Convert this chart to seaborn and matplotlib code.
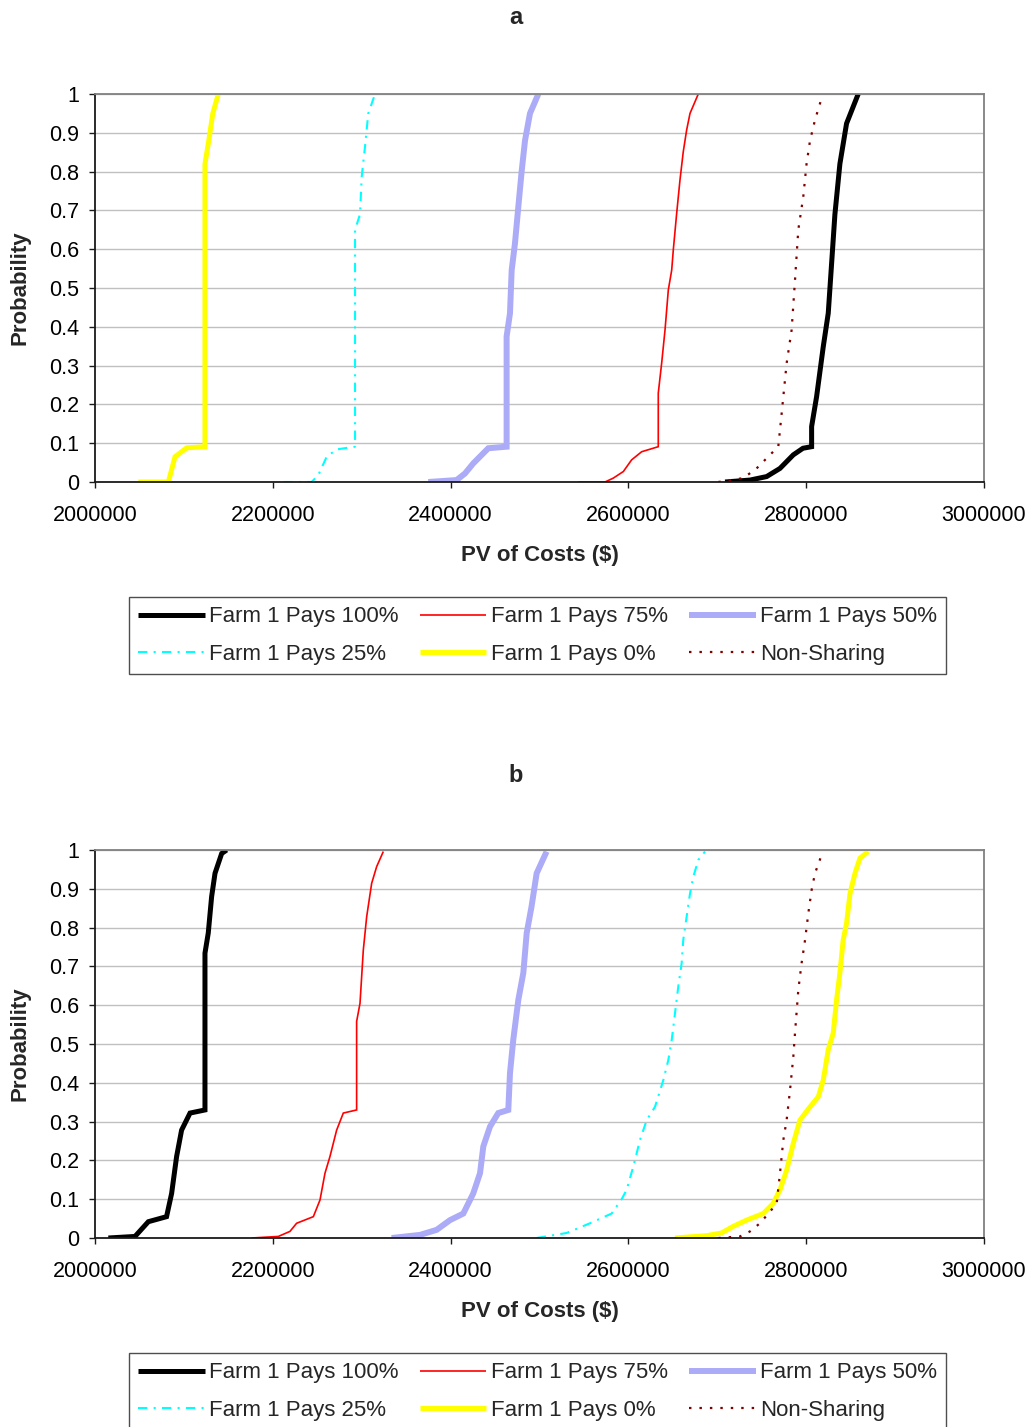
import matplotlib
matplotlib.use("Agg")
import matplotlib.pyplot as plt
import seaborn as sns
from matplotlib.ticker import FixedLocator, FuncFormatter

# ---------------- data: cumulative probability of PV of costs ----------------
series_labels = ["Farm 1 Pays 100%", "Farm 1 Pays 75%", "Farm 1 Pays 50%",
                 "Farm 1 Pays 25%", "Farm 1 Pays 0%", "Non-Sharing"]
x_ticks = [2000000, 2200000, 2400000, 2600000, 2800000, 3000000]
y_ticks = [0, 0.1, 0.2, 0.3, 0.4, 0.5, 0.6, 0.7, 0.8, 0.9, 1.0]

# panel a
a_p100_cost = [2708700, 2736800, 2755500, 2770500, 2785500, 2796400, 2806100, 2806100,
               2811700, 2819200, 2824800, 2828600, 2832300, 2837900, 2845400, 2858500]
a_p100_prob = [0.0, 0.005, 0.014, 0.035, 0.07, 0.087, 0.091, 0.143,
               0.22, 0.349, 0.435, 0.564, 0.69, 0.82, 0.924, 1.0]
a_p75_cost = [2543700, 2573700, 2583000, 2594300, 2603600, 2614900, 2633600, 2633600,
              2637400, 2641200, 2644900, 2648700, 2650500, 2654200, 2658000, 2661700,
              2665500, 2669300, 2678600]
a_p75_prob = [0.0, 0.0, 0.01, 0.027, 0.057, 0.078, 0.091, 0.229,
              0.306, 0.392, 0.495, 0.546, 0.598, 0.69, 0.778, 0.851,
              0.907, 0.95, 1.0]
a_p50_cost = [2374900, 2406800, 2416200, 2425500, 2442400, 2463000, 2463000, 2466800,
              2468700, 2472400, 2476200, 2479900, 2483700, 2489300, 2498700]
a_p50_prob = [0.0, 0.005, 0.022, 0.048, 0.087, 0.091, 0.375, 0.435,
              0.546, 0.615, 0.71, 0.80, 0.88, 0.95, 1.0]
a_p25_cost = [2211800, 2243700, 2251200, 2260600, 2271800, 2292500, 2292500, 2298100,
              2300000, 2303700, 2307400, 2315000]
a_p25_prob = [0.0, 0.0, 0.018, 0.065, 0.084, 0.091, 0.65, 0.69,
              0.787, 0.864, 0.95, 1.0]
a_p0_cost = [2048700, 2082500, 2090000, 2103100, 2123700, 2123700, 2128000, 2132500, 2138700]
a_p0_prob = [0.0, 0.0, 0.065, 0.088, 0.091, 0.82, 0.88, 0.95, 1.0]
a_ns_cost = [2701100, 2729200, 2744200, 2759300, 2768600, 2772400, 2778000, 2783600,
             2787400, 2791100, 2796700, 2800400, 2804300, 2809900, 2817300]
a_ns_prob = [0.0, 0.01, 0.035, 0.07, 0.091, 0.177, 0.306, 0.392,
             0.52, 0.65, 0.735, 0.82, 0.88, 0.933, 0.989]

# panel b
b_p100_cost = [2015000, 2045000, 2060000, 2080500, 2086200, 2091800, 2097400, 2106900,
               2123700, 2123700, 2127400, 2131200, 2135000, 2142500, 2148100]
b_p100_prob = [0.0, 0.004, 0.042, 0.055, 0.115, 0.21, 0.278, 0.322,
               0.33, 0.734, 0.786, 0.88, 0.94, 0.991, 1.0]
b_p75_cost = [2176200, 2206200, 2219300, 2226800, 2245600, 2253100, 2258700, 2264300,
              2271800, 2279300, 2294300, 2294300, 2298100, 2301800, 2305600, 2311200,
              2316800, 2324300]
b_p75_prob = [0.0, 0.004, 0.017, 0.038, 0.055, 0.098, 0.167, 0.21,
              0.278, 0.322, 0.33, 0.558, 0.605, 0.742, 0.828, 0.914,
              0.957, 0.996]
b_p50_cost = [2333600, 2365600, 2384300, 2399300, 2414300, 2425500, 2433100, 2436800,
              2444300, 2453600, 2464900, 2466800, 2470500, 2476200, 2481800, 2485600,
              2491100, 2496800, 2508000]
b_p50_prob = [0.0, 0.008, 0.021, 0.046, 0.063, 0.115, 0.167, 0.236,
              0.287, 0.322, 0.33, 0.425, 0.511, 0.614, 0.683, 0.786,
              0.855, 0.94, 0.996]
b_p25_cost = [2496800, 2530600, 2556800, 2581100, 2592400, 2598000, 2605500, 2613100,
              2620600, 2629900, 2639300, 2644900, 2648700, 2652400, 2656100, 2659900,
              2661700, 2665500, 2669300, 2673000, 2678600, 2686200]
b_p25_prob = [0.0, 0.013, 0.038, 0.063, 0.10, 0.124, 0.184, 0.253,
              0.304, 0.338, 0.407, 0.459, 0.51, 0.579, 0.648, 0.708,
              0.768, 0.828, 0.888, 0.931, 0.974, 0.996]
b_p0_cost = [2652400, 2688000, 2704800, 2717900, 2732900, 2751700, 2762900, 2770500,
             2778000, 2785500, 2793000, 2804300, 2813600, 2819200, 2824800, 2830400,
             2834200, 2837900, 2841600, 2845400, 2849300, 2854900, 2860500, 2869800]
b_p0_prob = [0.0, 0.006, 0.013, 0.03, 0.046, 0.063, 0.089, 0.124,
             0.175, 0.244, 0.304, 0.338, 0.364, 0.407, 0.485, 0.528,
             0.614, 0.683, 0.768, 0.811, 0.888, 0.94, 0.979, 0.996]
b_ns_cost = [2701100, 2725500, 2736800, 2748000, 2759300, 2766800, 2770500, 2774300,
             2778000, 2781800, 2785500, 2787400, 2791100, 2794800, 2798700, 2802400,
             2806100, 2809900, 2817300]
b_ns_prob = [0.0, 0.004, 0.017, 0.038, 0.068, 0.089, 0.167, 0.253,
             0.304, 0.381, 0.467, 0.528, 0.639, 0.708, 0.768, 0.837,
             0.897, 0.94, 0.987]

panels = {
    "a": [(a_p100_cost, a_p100_prob), (a_p75_cost, a_p75_prob), (a_p50_cost, a_p50_prob),
          (a_p25_cost, a_p25_prob), (a_p0_cost, a_p0_prob), (a_ns_cost, a_ns_prob)],
    "b": [(b_p100_cost, b_p100_prob), (b_p75_cost, b_p75_prob), (b_p50_cost, b_p50_prob),
          (b_p25_cost, b_p25_prob), (b_p0_cost, b_p0_prob), (b_ns_cost, b_ns_prob)],
}

# ---------------- styling ----------------
sns.set_theme(style="white")
plt.rcParams["font.family"] = ["Liberation Sans", "DejaVu Sans"]

line_styles = [
    dict(color="#000000", lw=3.6, ls="-"),
    dict(color="#FF0000", lw=1.2, ls="-"),
    dict(color="#ABABF7", lw=4.3, ls="-"),
    dict(color="#00FFFF", lw=1.5, ls=(0, (4.5, 3, 1, 3))),
    dict(color="#FFFF00", lw=3.6, ls="-"),
    dict(color="#800000", lw=1.6, ls=(0, (1.1, 3.6))),
]

W, H = 1033, 1427
fig = plt.figure(figsize=(W / 100, H / 100), dpi=100)

# axes boxes in pixels: left, right, top, bottom
boxes = {"a": (95, 984, 94, 482), "b": (95, 984, 850, 1238)}
title_y = {"a": 18, "b": 775}
xlabel_gap = 73      # px from axis bottom to x-label centre
legend_gap = 115     # px from axis bottom to legend top

tick_fs = 15.5
bold_fs = 16

for key in ["a", "b"]:
    l, r, t, b = boxes[key]
    ax = fig.add_axes([l / W, 1 - b / H, (r - l) / W, (b - t) / H])
    ax.set_facecolor("white")

    for (cost, prob), lab, st in zip(panels[key], series_labels, line_styles):
        sns.lineplot(x=cost, y=prob, sort=False, estimator=None, ax=ax,
                     color=st["color"], linewidth=st["lw"], linestyle=st["ls"],
                     label=lab, legend=False, solid_joinstyle="miter",
                     solid_capstyle="butt")

    ax.set_xlim(2000000, 3000000)
    ax.set_ylim(0, 1)
    ax.xaxis.set_major_locator(FixedLocator(x_ticks))
    ax.yaxis.set_major_locator(FixedLocator(y_ticks))
    ax.xaxis.set_major_formatter(FuncFormatter(lambda v, p: f"{int(round(v))}"))
    ax.yaxis.set_major_formatter(FuncFormatter(lambda v, p: f"{v:g}"))

    ax.yaxis.grid(True, color="#C0C0C0", linewidth=1.0)
    ax.xaxis.grid(False)
    ax.set_axisbelow(True)

    for side in ["left", "bottom"]:
        ax.spines[side].set_color("#1A1A1A")
        ax.spines[side].set_linewidth(1.3)
    for side in ["top", "right"]:
        ax.spines[side].set_color("#808080")
        ax.spines[side].set_linewidth(1.3)

    ax.tick_params(axis="x", direction="out", length=4.5, width=1, color="#1A1A1A",
                   labelsize=tick_fs, pad=12, bottom=True, labelcolor="black")
    ax.tick_params(axis="y", direction="out", length=4.5, width=1, color="#1A1A1A",
                   labelsize=tick_fs, pad=7, left=True, labelcolor="black")

    ax.set_xlabel("PV of Costs ($)", fontsize=bold_fs, fontweight="bold", va="center")
    ax.xaxis.set_label_coords(0.5, -xlabel_gap / (b - t))
    ax.set_ylabel("Probability", fontsize=bold_fs, fontweight="bold", va="center")
    ax.yaxis.set_label_coords((20 - l) / (r - l), 0.5)

    fig.text(516 / W, 1 - title_y[key] / H, key, ha="center", va="center",
             fontsize=bold_fs + 1, fontweight="bold")

    # legend laid out row-wise: 3 columns x 2 rows
    handles, labels = ax.get_legend_handles_labels()
    order = [0, 3, 1, 4, 2, 5]
    leg = ax.legend([handles[i] for i in order], [labels[i] for i in order],
                    ncol=3, loc="upper center",
                    bbox_to_anchor=(0.4978, -legend_gap / (b - t)),
                    bbox_transform=ax.transAxes, fontsize=16, frameon=True,
                    fancybox=False, shadow=False, edgecolor="#222222",
                    handlelength=3.0, handletextpad=0.2, columnspacing=0.95,
                    labelspacing=0.75, borderpad=0.42, borderaxespad=0)
    leg.get_frame().set_linewidth(1.0)

fig.savefig("out.png", dpi=100, facecolor="white")
